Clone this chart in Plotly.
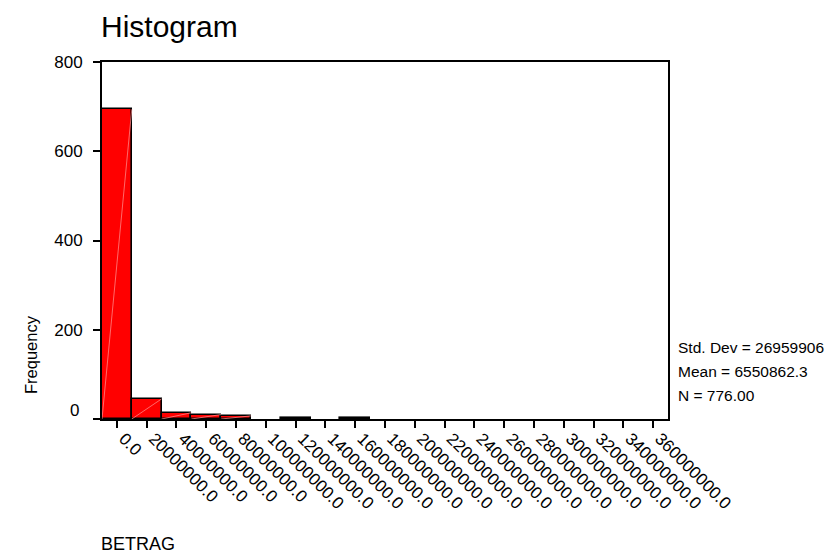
import plotly.graph_objects as go

# ---- data ----
bin_width = 20000000
bin_centers = [i * 20000000 for i in range(19)]
counts = [694, 45, 14, 10, 7, 0, 3, 0, 3, 0, 0, 0, 0, 0, 0, 0, 0, 0, 0]
tick_labels = [f"{v:.1f}" for v in bin_centers]
y_ticks = [0, 200, 400, 600, 800]
stats_lines = ["Std. Dev = 26959906", "Mean = 6550862.3", "N = 776.00"]
title_text = "Histogram"
x_title = "BETRAG"
y_title = "Frequency"

FONT = "Arial, Liberation Sans, sans-serif"

fig = go.Figure()
fig.add_trace(go.Bar(
    x=bin_centers,
    y=[c if c > 0 else None for c in counts],
    width=bin_width,
    marker=dict(color="#ff0000", line=dict(color="black", width=1.6)),
    hoverinfo="x+y",
    showlegend=False,
))

# faint diagonal artefact inside each bar (bottom-left to top-right)
dx, dy = [], []
for c, n in zip(bin_centers, counts):
    if n > 5:
        dx += [c - bin_width / 2, c + bin_width / 2, None]
        dy += [0, n, None]
fig.add_trace(go.Scatter(x=dx, y=dy, mode="lines",
                         line=dict(color="rgba(255,150,150,0.7)", width=1),
                         hoverinfo="skip", showlegend=False))

L, R, T, B = 102, 169, 62, 136
W, H = 837, 555
pw, ph = W - L - R, H - T - B

def px_x(p):
    return (p - L) / pw

def px_y(p):
    return (H - B - p) / ph

annotations = [
    dict(text=title_text, x=px_x(99), y=px_y(27), xref="paper", yref="paper",
         xanchor="left", yanchor="middle", showarrow=False,
         font=dict(size=30, family=FONT, color="black")),
    dict(text=x_title, x=px_x(99), y=px_y(544), xref="paper", yref="paper",
         xanchor="left", yanchor="middle", showarrow=False,
         font=dict(size=18, family=FONT, color="black")),
    dict(text=y_title, x=px_x(31), y=px_y(355), xref="paper", yref="paper",
         xanchor="center", yanchor="middle", textangle=-90, showarrow=False,
         font=dict(size=16.5, family=FONT, color="black")),
    dict(text=str(y_ticks[0]), x=px_x(81), y=px_y(410), xref="paper", yref="paper",
         xanchor="right", yanchor="middle", showarrow=False,
         font=dict(size=17, family=FONT, color="black")),
]
for i, s in enumerate(stats_lines):
    annotations.append(dict(text=s, x=px_x(676), y=px_y(347 + 24 * i),
                            xref="paper", yref="paper", xanchor="left",
                            yanchor="middle", showarrow=False,
                            font=dict(size=15.5, family=FONT, color="black")))

fig.update_layout(
    width=W, height=H, autosize=False,
    margin=dict(l=L, r=R, t=T, b=B, pad=0),
    paper_bgcolor="white", plot_bgcolor="white",
    font=dict(family=FONT, color="black", size=15),
    bargap=0,
    xaxis=dict(range=[-bin_width / 2, bin_centers[-1] + bin_width / 2],
               tickmode="array", tickvals=bin_centers, ticktext=tick_labels,
               tickangle=45, ticks="outside", ticklen=7, tickwidth=1.5,
               tickcolor="black", showline=True, linecolor="black", linewidth=2,
               mirror=True, showgrid=False, zeroline=False,
               ticklabelshift=7, ticklabelstandoff=-6,
               tickfont=dict(size=17, family=FONT, color="black")),
    yaxis=dict(range=[0, 800], tickmode="array", tickvals=y_ticks,
               ticktext=[""] + [str(v) for v in y_ticks[1:]],
               ticks="outside", ticklen=7, tickwidth=1.5, tickcolor="black",
               showline=True, linecolor="black", linewidth=2, mirror=True,
               showgrid=False, zeroline=False, ticklabelstandoff=7,
               tickfont=dict(size=17, family=FONT, color="black")),
    annotations=annotations,
)

fig.write_html("out.html")
